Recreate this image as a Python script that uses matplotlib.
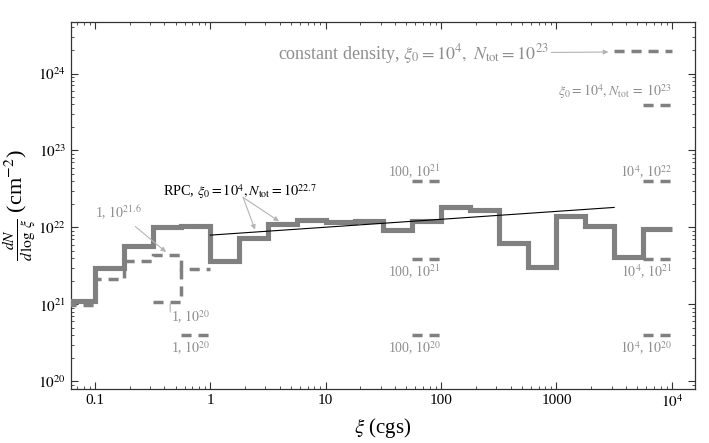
import numpy as np
import matplotlib
matplotlib.use("Agg")
import matplotlib.pyplot as plt

plt.rcParams["font.family"] = ["Liberation Serif", "DejaVu Serif"]
plt.rcParams["mathtext.fontset"] = "stix"

# ---------------------------------------------------------------------------
# Data (log10 values)
# ---------------------------------------------------------------------------
# quarter-decade bin edges in log10(xi)
edges_log = np.arange(-1.25, 4.01, 0.25)

# RPC histogram, log10 dN/dlog xi
rpc_log = [21.04, 21.47, 21.76, 22.00, 22.02, 21.57, 21.86, 22.05, 22.10, 22.07,
           22.085, 21.97, 22.08, 22.26, 22.23, 21.80, 21.49, 22.15, 22.02, 21.62,
           21.98]

# dashed "1, 10^21.6" histogram (first five bins)
dash_edges_log = [-1.25, -1.0, -0.75, -0.5, -0.25, 0.0]
dash_log = [20.99, 21.33, 21.56, 21.64, 21.46]

# dashed "1, 10^20" piece
small_x_log = [-0.5, -0.25, -0.25]
small_y_log = [21.03, 21.03, 21.46]

# power-law fit line for RPC
fit_x_log = [0.0, 3.5]
fit_y_log = [21.90, 22.26]

# short marker segments: (log xi_lo, log xi_hi, log N)
markers = [
    (3.5, 4.0, 24.29),    # constant density
    (3.75, 4.0, 23.59),   # xi0=1e4, Ntot=1e23
    (3.75, 4.0, 22.61),   # 1e4, 1e22
    (1.75, 2.0, 22.61),   # 100, 1e21 (upper)
    (1.75, 2.0, 21.59),   # 100, 1e21 (lower)
    (3.75, 4.0, 21.59),   # 1e4, 1e21
    (1.75, 2.0, 20.60),   # 100, 1e20
    (3.75, 4.0, 20.60),   # 1e4, 1e20
    (-0.25, 0.0, 20.60),  # 1, 1e20
]

# labels: (text, log x, log y, ha)
labels = [
    (r"$\xi_0 = 10^4, N_{\rm tot}\,=\;10^{23}$", 4.0, 23.76, "right"),
    (r"100, $10^{21}$", 2.0, 22.72, "right"),
    (r"$10^4$, $10^{22}$", 4.0, 22.72, "right"),
    (r"100, $10^{21}$", 2.0, 21.42, "right"),
    (r"$10^4$, $10^{21}$", 4.0, 21.42, "right"),
    (r"100, $10^{20}$", 2.0, 20.435, "right"),
    (r"$10^4$, $10^{20}$", 4.0, 20.435, "right"),
    (r"1, $10^{20}$", 0.0, 20.83, "right"),
    (r"1, $10^{20}$", 0.0, 20.435, "right"),
]

GRAY = "#808080"
TXT_GRAY = "#8e8e8e"
ARROW_GRAY = "#b4b4b4"
DASH = (0, (2.9, 2.0))

fig = plt.figure(figsize=(7.09, 4.43), dpi=100)
ax = fig.add_axes([0.1001, 0.1219, 0.8801, 0.8284])

edges = 10 ** edges_log
rpc = 10 ** np.array(rpc_log)
ax.stairs(rpc, edges, color=GRAY, lw=3.7, baseline=None, zorder=3)

ax.stairs(10 ** np.array(dash_log), 10 ** np.array(dash_edges_log), color=GRAY,
          lw=2.5, linestyle=DASH, baseline=None, zorder=3)
ax.plot(10 ** np.array(small_x_log), 10 ** np.array(small_y_log), color=GRAY,
        lw=2.5, linestyle=DASH, zorder=3)

ax.plot(10 ** np.array(fit_x_log), 10 ** np.array(fit_y_log), color="black",
        lw=0.8, zorder=4)

for lo, hi, yv in markers:
    ax.plot([10 ** lo, 10 ** hi], [10 ** yv, 10 ** yv], color=GRAY, lw=2.5,
            linestyle=DASH, solid_capstyle="butt")

for txt, lx, ly, ha in labels:
    ax.text(10 ** lx, 10 ** ly, txt, color=TXT_GRAY, fontsize=10, ha=ha, va="center")

# annotated labels with arrows
ax.annotate(r"constant density, $\xi_0 = 10^4,\ N_{\rm tot} = 10^{23}$",
            xy=(10 ** 3.45, 10 ** 24.28), xytext=(10 ** 2.93, 10 ** 24.26),
            color=TXT_GRAY, fontsize=13, ha="right", va="center",
            arrowprops=dict(arrowstyle="-|>", color=ARROW_GRAY, lw=0.8,
                            mutation_scale=7, shrinkA=0, shrinkB=0))

ax.annotate(r"1, $10^{21.6}$", xy=(10 ** -0.383, 10 ** 21.68),
            xytext=(10 ** -0.59, 10 ** 22.19), color=TXT_GRAY, fontsize=10,
            ha="right", va="center",
            arrowprops=dict(arrowstyle="-|>", color=ARROW_GRAY, lw=0.8,
                            mutation_scale=7, shrinkA=2, shrinkB=0))

ax.annotate("", xy=(10 ** -0.347, 10 ** 21.01), xytext=(10 ** -0.347, 10 ** 20.90),
            arrowprops=dict(arrowstyle="-", color=ARROW_GRAY, lw=0.8,
                            shrinkA=0, shrinkB=0))

rpc_txt = r"RPC, $\xi_0 = 10^4, N_{\rm tot} = 10^{22.7}$"
ax.text(10 ** -0.41, 10 ** 22.46, rpc_txt, color="black", fontsize=10.3,
        ha="left", va="center")
for tip in [(0.388, 21.97), (0.596, 22.08)]:
    ax.annotate("", xy=(10 ** tip[0], 10 ** tip[1]), xytext=(10 ** 0.285, 10 ** 22.39),
                arrowprops=dict(arrowstyle="-|>", color=ARROW_GRAY, lw=0.8,
                                mutation_scale=7, shrinkA=0, shrinkB=0))

ax.set_xscale("log")
ax.set_yscale("log")
ax.set_xlim(10 ** -1.207, 10 ** 4.2)
ax.set_ylim(10 ** 19.90, 10 ** 24.67)

ax.set_xticks([0.1, 1, 10, 100, 1000, 1e4])
ax.set_xticklabels(["0.1", "1", "10", "100", "1000", r"$10^4$"])
ax.set_yticks([1e20, 1e21, 1e22, 1e23, 1e24])
ax.set_yticklabels([r"$10^{20}$", r"$10^{21}$", r"$10^{22}$", r"$10^{23}$", r"$10^{24}$"])
ax.tick_params(which="both", direction="in", top=True, right=True, labelsize=11,
               color="#333333")
ax.tick_params(which="major", length=5, width=0.8)
ax.tick_params(which="minor", length=2.5, width=0.6)
for sp in ax.spines.values():
    sp.set_linewidth(0.9)
    sp.set_color("#333333")

ax.set_xlabel(r"$\xi$ (cgs)", fontsize=15, labelpad=4)
ax.set_ylabel(r"$\frac{dN}{d\,\log\,\xi}$ (cm$^{-2}$)", fontsize=16, labelpad=1)

fig.savefig("out.png", dpi=100)
